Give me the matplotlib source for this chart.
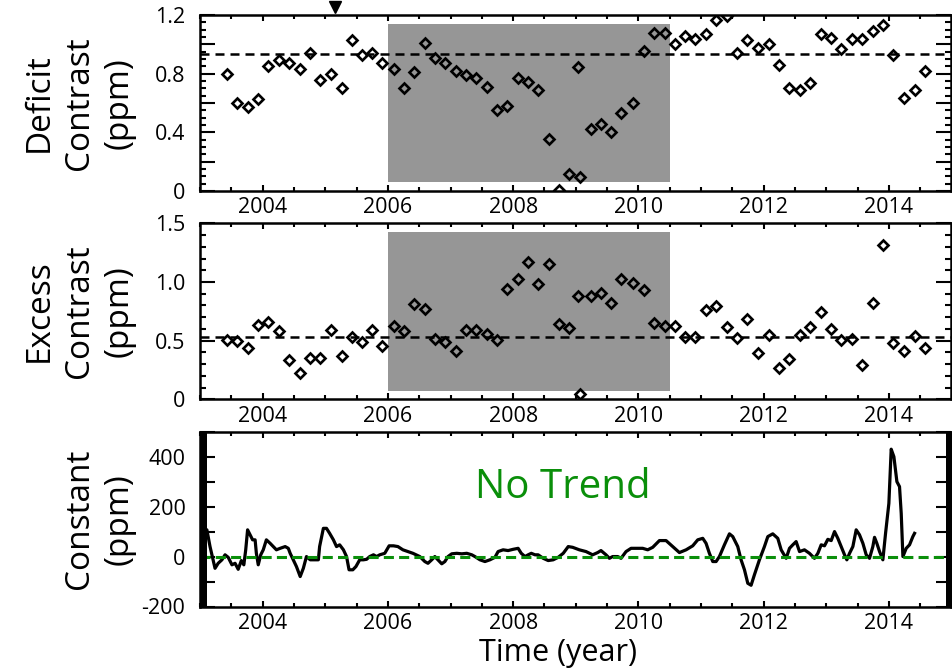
import matplotlib
matplotlib.use("Agg")
import matplotlib.pyplot as plt
from matplotlib.ticker import MultipleLocator, FuncFormatter
from matplotlib.patches import Rectangle

plt.rcParams['font.family'] = ['Open Sans', 'DejaVu Sans']

# ---- data -------------------------------------------------------------
years = [2003.43, 2003.59, 2003.76, 2003.92, 2004.09, 2004.26, 2004.42, 2004.59,
         2004.76, 2004.92, 2005.09, 2005.26, 2005.42, 2005.59, 2005.75, 2005.91,
         2006.09, 2006.25, 2006.41, 2006.59, 2006.75, 2006.91, 2007.08, 2007.25,
         2007.41, 2007.58, 2007.74, 2007.91, 2008.07, 2008.24, 2008.40, 2008.57,
         2008.74, 2008.90, 2009.03, 2009.07, 2009.24, 2009.40, 2009.57, 2009.73,
         2009.91, 2010.09, 2010.25, 2010.42, 2010.58, 2010.75, 2010.91, 2011.08,
         2011.24, 2011.41, 2011.58, 2011.74, 2011.91, 2012.08, 2012.25, 2012.41,
         2012.58, 2012.74, 2012.91, 2013.08, 2013.24, 2013.41, 2013.57, 2013.74,
         2013.91, 2014.07, 2014.24, 2014.41, 2014.58]

deficit = [0.80, 0.60, 0.57, 0.63, 0.85, 0.89, 0.87, 0.83, 0.94, 0.76,
           0.80, 0.70, 1.03, 0.93, 0.94, 0.875, 0.83, 0.705, 0.81, 1.01,
           0.91, 0.87, 0.82, 0.79, 0.77, 0.71, 0.555, 0.58, 0.77, 0.745,
           0.69, 0.355, 0.005, 0.115, 0.845, 0.093, 0.42, 0.46, 0.405, 0.53,
           0.60, 0.955, 1.075, 1.075, 1.00, 1.06, 1.035, 1.07, 1.165, 1.19,
           0.94, 1.03, 0.975, 1.00, 0.86, 0.70, 0.69, 0.735, 1.07, 1.04,
           0.965, 1.035, 1.035, 1.09, 1.135, 0.93, 0.635, 0.69, 0.82]

excess = [0.506, 0.50, 0.434, 0.633, 0.662, 0.584, 0.338, 0.22, 0.355, 0.355,
          0.59, 0.373, 0.535, 0.491, 0.59, 0.451, 0.621, 0.581, 0.815, 0.772,
          0.512, 0.486, 0.41, 0.59, 0.59, 0.558, 0.503, 0.942, 1.023, 1.173,
          0.986, 1.153, 0.642, 0.604, 0.884, 0.046, 0.884, 0.91, 0.818, 1.023,
          0.994, 0.934, 0.647, 0.621, 0.624, 0.529, 0.529, 0.763, 0.792, 0.618,
          0.52, 0.685, 0.396, 0.546, 0.269, 0.347, 0.546, 0.618, 0.74, 0.601,
          0.506, 0.514, 0.292, 0.821, 1.315, 0.483, 0.413, 0.54, 0.439]

deficit_ref = 0.935
excess_ref = 0.53

const_years = [2003.05, 2003.11, 2003.16, 2003.24, 2003.29, 2003.35, 2003.40, 2003.45,
               2003.51, 2003.56, 2003.61, 2003.66, 2003.70, 2003.73, 2003.76, 2003.80,
               2003.84, 2003.88, 2003.90, 2003.93, 2003.97, 2004.01, 2004.06, 2004.12,
               2004.17, 2004.22, 2004.28, 2004.36, 2004.41, 2004.44, 2004.49, 2004.54,
               2004.60, 2004.65, 2004.70, 2004.76, 2004.84, 2004.89, 2004.91, 2004.97,
               2005.02, 2005.07, 2005.13, 2005.18, 2005.23, 2005.29, 2005.34, 2005.38,
               2005.44, 2005.49, 2005.55, 2005.61, 2005.66, 2005.71, 2005.77, 2005.82,
               2005.87, 2005.95, 2006.02, 2006.09, 2006.16, 2006.24, 2006.32, 2006.40,
               2006.51, 2006.59, 2006.64, 2006.70, 2006.75, 2006.80, 2006.86, 2006.91,
               2006.96, 2007.02, 2007.10, 2007.18, 2007.26, 2007.34, 2007.39, 2007.47,
               2007.55, 2007.63, 2007.71, 2007.76, 2007.84, 2007.92, 2008.00, 2008.08,
               2008.13, 2008.19, 2008.24, 2008.29, 2008.35, 2008.40, 2008.48, 2008.56,
               2008.64, 2008.72, 2008.80, 2008.88, 2008.951, 2009.057, 2009.164, 2009.270,
               2009.350, 2009.403, 2009.483, 2009.537, 2009.590, 2009.670, 2009.723, 2009.803,
               2009.883, 2009.963, 2010.069, 2010.149, 2010.229, 2010.336, 2010.442, 2010.549,
               2010.655, 2010.762, 2010.868, 2010.948, 2011.028, 2011.081, 2011.134, 2011.188,
               2011.241, 2011.294, 2011.374, 2011.454, 2011.507, 2011.587, 2011.640, 2011.694,
               2011.747, 2011.800, 2011.853, 2011.933, 2012.013, 2012.067, 2012.146, 2012.226,
               2012.280, 2012.360, 2012.413, 2012.466, 2012.519, 2012.573, 2012.652, 2012.732,
               2012.812, 2012.866, 2012.919, 2012.972, 2013.025, 2013.079, 2013.132, 2013.185,
               2013.238, 2013.292, 2013.329, 2013.372, 2013.425, 2013.478, 2013.531, 2013.585,
               2013.638, 2013.691, 2013.744, 2013.771, 2013.808, 2013.851, 2013.904, 2013.947,
               2014.000, 2014.037, 2014.080, 2014.128, 2014.170, 2014.197, 2014.224, 2014.277,
               2014.330, 2014.383, 2014.410]

const_vals = [110, 107, 40, -47, -27, -13, 7, -3,
              -33, -27, -51, -16, -33, 27, 107, 87,
              67, 67, 13, -33, 7, 27, 67, 53,
              40, 27, 33, 40, 33, 13, -13, -40,
              -80, -47, 0, -13, -13, -13, 40, 113,
              113, 93, 67, 40, 47, 27, 0, -53,
              -53, -40, -13, -13, -11, 0, 7, 0,
              7, 13, 43, 43, 40, 27, 20, 13,
              0, -20, -27, -13, 0, -13, -29, -20,
              0, 11, 13, 11, 13, 7, 0, -13,
              -20, -13, -3, 20, 27, 24, 29, 33,
              13, 0, 7, 13, 7, 7, -7, -16,
              -13, -3, 13, 40, 37, 27, 20, 7,
              16, 24, 7, -7, 0, 0, -7, 20,
              33, 33, 33, 27, 37, 64, 64, 40,
              16, 27, 43, 67, 73, 53, 13, -20,
              -20, 0, 47, 91, 80, 40, -13, -53,
              -107, -115, -73, -13, 40, 80, 91, 73,
              27, -7, 33, 47, 60, 20, 27, 13,
              -7, 13, 47, 43, 69, 64, 100, 73,
              40, 7, -13, 13, 40, 107, 87, 53,
              7, -7, 40, 77, 53, 20, -13, 93,
              213, 430, 400, 300, 280, 173, 0, 33,
              47, 80, 93]

shade_start, shade_end = 2006.0, 2010.5
event_year = 2005.16

x_min, x_max = 2003.0, 2015.0
gray = '#969696'
green = '#0a8f0a'

# ---- figure -----------------------------------------------------------
fig = plt.figure(figsize=(9.53, 6.70), dpi=100)
W, H = 953.0, 670.0
left, right = 200 / W, 951.5 / W
ax1 = fig.add_axes([left, 1 - 191 / H, right - left, 176 / H])
ax2 = fig.add_axes([left, 1 - 399.3 / H, right - left, 176 / H])
ax3 = fig.add_axes([left, 1 - 606.5 / H, right - left, 174.8 / H])


def style(ax):
    for s in ax.spines.values():
        s.set_linewidth(1.8)
    ax.set_xlim(x_min, x_max)
    ax.xaxis.set_major_locator(MultipleLocator(2))
    ax.xaxis.set_minor_locator(MultipleLocator(0.5))
    ax.xaxis.set_major_formatter(FuncFormatter(lambda v, p: f"{int(round(v))}"))
    ax.tick_params(which='both', direction='in', top=True, right=True,
                   labelsize=15.5, width=1.5, color='black')
    ax.tick_params(axis='y', which='major', length=10.8, pad=10.5)
    ax.tick_params(axis='y', which='minor', length=4.3)
    ax.tick_params(axis='x', which='major', length=4.5, pad=4.5)
    ax.tick_params(axis='x', which='minor', length=2.8)


def fmt_every(step, fmt):
    def f(v, p):
        if abs(v / step - round(v / step)) > 1e-6:
            return ""
        if abs(v) < 1e-9:
            return "0"
        return fmt.format(v)
    return FuncFormatter(f)


marker_kw = dict(ls='none', marker='D', ms=4.8, mfc='none', mec='k', mew=1.9, zorder=3)
dash_kw = dict(color='k', lw=1.8, dashes=(3.6, 2.4), zorder=1)

# Deficit contrast
style(ax1)
ax1.set_ylim(0, 1.2)
ax1.yaxis.set_major_locator(MultipleLocator(0.2))
ax1.yaxis.set_minor_locator(MultipleLocator(0.05))
ax1.yaxis.set_major_formatter(fmt_every(0.4, "{:.1f}"))
ax1.axvspan(shade_start, shade_end, ymin=0.05, ymax=0.95, color=gray, lw=0, zorder=0)
ax1.axhline(deficit_ref, **dash_kw)
ax1.plot(years, deficit, **marker_kw)
ax1.plot([event_year], [1.048], marker='v', ms=9, color='k', ls='none',
         transform=ax1.get_xaxis_transform(), clip_on=False)

# Excess contrast
style(ax2)
ax2.set_ylim(0, 1.5)
ax2.yaxis.set_major_locator(MultipleLocator(0.5))
ax2.yaxis.set_minor_locator(MultipleLocator(0.1))
ax2.yaxis.set_major_formatter(fmt_every(0.5, "{:.1f}"))
ax2.axvspan(shade_start, shade_end, ymin=0.05, ymax=0.95, color=gray, lw=0, zorder=0)
ax2.axhline(excess_ref, **dash_kw)
ax2.plot(years, excess, **marker_kw)

# Constant term
style(ax3)
ax3.set_ylim(-200, 500)
ax3.yaxis.set_major_locator(MultipleLocator(100))
ax3.yaxis.set_minor_locator(MultipleLocator(100))
ax3.yaxis.set_major_formatter(fmt_every(200, "{:.0f}"))
ax3.plot(const_years, const_vals, color='k', lw=2.3, zorder=2)
ax3.axhline(0, color=green, lw=2.2, dashes=(3.3, 1.7), zorder=3)
ax3.text(2008.8, 234, "No Trend", color=green, fontsize=29, ha='center', va='baseline')
for x0, w in ((0.0, 7.3 / 751), (1 - 5.5 / 751, 7.5 / 751)):
    ax3.add_patch(Rectangle((x0, 0), w, 1, transform=ax3.transAxes, color='k',
                            lw=0, clip_on=False, zorder=5))

# Axis titles
ylab_kw = dict(rotation=90, ha='right', va='center', fontsize=24,
               multialignment='center', linespacing=1.28)
fig.text(136 / W, 1 - 103 / H, "Deficit\nContrast\n(ppm)", **ylab_kw)
fig.text(136 / W, 1 - 311 / H, "Excess\nContrast\n(ppm)", **ylab_kw)
fig.text(136 / W, 1 - 519 / H, "Constant\n(ppm)", **ylab_kw)
fig.text(558 / W, 1 - 661.5 / H, "Time (year)", ha='center', va='baseline', fontsize=22)

fig.savefig("out.png", dpi=100)
